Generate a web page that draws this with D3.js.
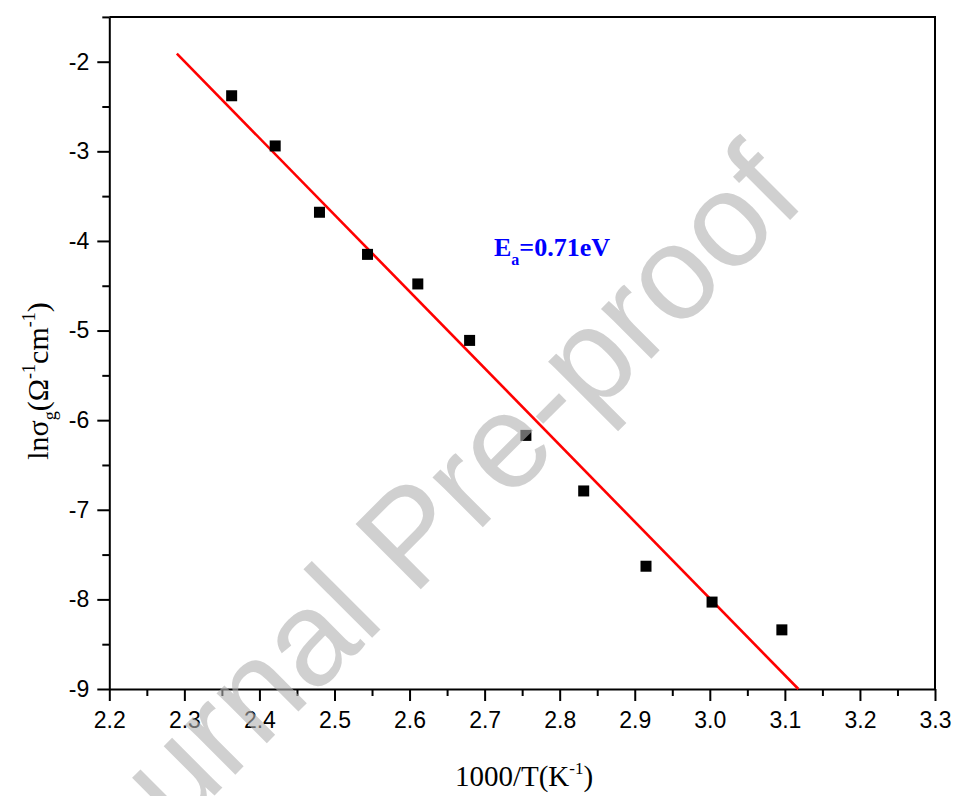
<!DOCTYPE html>
<html>
<head>
<meta charset="utf-8">
<script src="https://cdn.jsdelivr.net/npm/d3@7"></script>
<style>
  html, body { margin: 0; padding: 0; background: #fff; }
  svg { display: block; }
</style>
</head>
<body>
<script>
// ---- data ----
const invT = [2.363, 2.421, 2.480, 2.544, 2.611, 2.680, 2.755, 2.832, 2.915, 3.003, 3.096];
const lnSigma = [-2.38, -2.94, -3.68, -4.15, -4.48, -5.11, -6.17, -6.79, -7.63, -8.03, -8.34];
const fitX = [2.29, 3.118];
const fitY = [-1.91, -9.0];
const xMajorTicks = [2.2, 2.3, 2.4, 2.5, 2.6, 2.7, 2.8, 2.9, 3.0, 3.1, 3.2, 3.3];
const xMinorTicks = [2.25, 2.35, 2.45, 2.55, 2.65, 2.75, 2.85, 2.95, 3.05, 3.15, 3.25];
const yMajorTicks = [-9, -8, -7, -6, -5, -4, -3, -2];
const yMinorTicks = [-8.5, -7.5, -6.5, -5.5, -4.5, -3.5, -2.5, -1.5];
const xDomain = [2.2, 3.3];
const yDomain = [-9, -1.5];

const W = 957, H = 796;
const L = 109.3, R = 935, T = 16.9, B = 689;

const svg = d3.select("body").append("svg").attr("width", W).attr("height", H);

const x = d3.scaleLinear().domain(xDomain).range([L, R]);
const y = d3.scaleLinear().domain(yDomain).range([B, T]);

const sans = "'Liberation Sans', Arial, sans-serif";
const serif = "'Liberation Serif', 'Times New Roman', serif";

// frame (top & right)
svg.append("path")
  .attr("d", `M${L},${T}H${R}V${B}`)
  .attr("fill", "none").attr("stroke", "#000").attr("stroke-width", 2);

// minor ticks
svg.append("g").attr("transform", `translate(0,${B})`)
  .call(d3.axisBottom(x).tickValues(xMinorTicks).tickSize(7).tickFormat(""))
  .call(g => g.select(".domain").remove())
  .call(g => g.selectAll("line").attr("stroke-width", 2));
svg.append("g").attr("transform", `translate(${L},0)`)
  .call(d3.axisLeft(y).tickValues(yMinorTicks).tickSize(7).tickFormat(""))
  .call(g => g.select(".domain").remove())
  .call(g => g.selectAll("line").attr("stroke-width", 2));

// major axes
const xAxis = svg.append("g").attr("transform", `translate(0,${B})`)
  .call(d3.axisBottom(x).tickValues(xMajorTicks).tickSize(12).tickSizeOuter(0)
        .tickPadding(11).tickFormat(d3.format(".1f")));
const yAxis = svg.append("g").attr("transform", `translate(${L},0)`)
  .call(d3.axisLeft(y).tickValues(yMajorTicks).tickSize(12).tickSizeOuter(0)
        .tickPadding(8).tickFormat(d => String(d)));
[xAxis, yAxis].forEach(g => {
  g.select(".domain").attr("stroke-width", 2);
  g.selectAll("line").attr("stroke-width", 2);
  g.selectAll("text").attr("font-family", sans).attr("font-size", 23).attr("fill", "#000");
});

// fit line
svg.append("line")
  .attr("x1", x(fitX[0])).attr("y1", y(fitY[0]))
  .attr("x2", x(fitX[1])).attr("y2", y(fitY[1]))
  .attr("stroke", "#ff0000").attr("stroke-width", 2.6);

// data points
const sq = 11;
svg.append("g").selectAll("rect")
  .data(invT.map((v, i) => [v, lnSigma[i]]))
  .join("rect")
  .attr("x", d => x(d[0]) - sq / 2)
  .attr("y", d => y(d[1]) - sq / 2)
  .attr("width", sq).attr("height", sq)
  .attr("fill", "#000");

// annotation
const ann = svg.append("text")
  .attr("x", 494).attr("y", 256)
  .attr("font-family", serif).attr("font-weight", "bold")
  .attr("font-size", 26).attr("fill", "#0000ff");
ann.append("tspan").text("E");
ann.append("tspan").attr("font-size", 16).attr("dy", 9).text("a");
ann.append("tspan").attr("dy", -9).text("=0.71eV");

// x title
const xt = svg.append("text")
  .attr("x", 524).attr("y", 786)
  .attr("text-anchor", "middle")
  .attr("font-family", serif).attr("font-size", 29).attr("fill", "#000");
xt.append("tspan").text("1000/T(K");
xt.append("tspan").attr("font-size", 17).attr("dy", -12).text("-1");
xt.append("tspan").attr("dy", 12).text(")");

// y title
const yt = svg.append("text")
  .attr("transform", `translate(48,381) rotate(-90)`)
  .attr("text-anchor", "middle")
  .attr("font-family", serif).attr("font-size", 30).attr("fill", "#000");
yt.append("tspan").text("lnσ");
yt.append("tspan").attr("font-size", 18).attr("dy", 8).text("g");
yt.append("tspan").attr("dy", -8).text("(Ω");
yt.append("tspan").attr("font-size", 18).attr("dy", -13).text("-1");
yt.append("tspan").attr("dy", 13).text("cm");
yt.append("tspan").attr("font-size", 18).attr("dy", -13).text("-1");
yt.append("tspan").attr("dy", 13).text(")");

// watermark
svg.append("text")
  .attr("transform", "translate(442,568) rotate(-45)")
  .attr("text-anchor", "middle")
  .attr("font-family", sans).attr("font-size", 134)
  .attr("fill", "#b1b1b1").attr("fill-opacity", 0.6)
  .text("Journal Pre-proof");
</script>
</body>
</html>
